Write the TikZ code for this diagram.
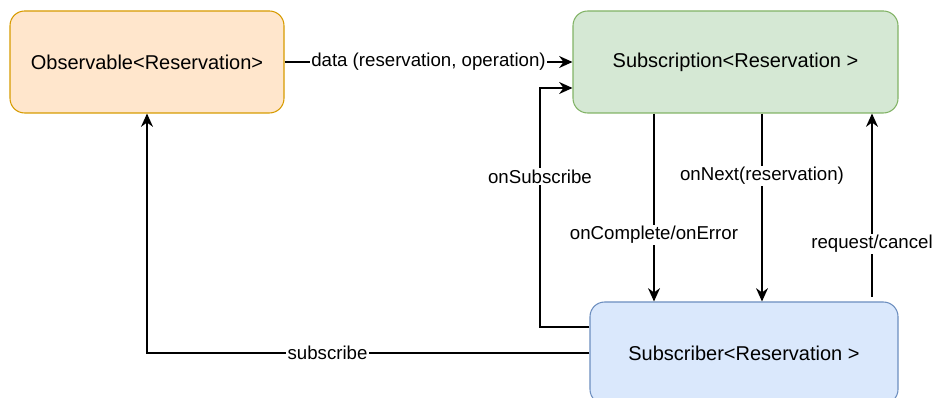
\documentclass[tikz,border=0pt]{standalone}
\usepackage{fontspec}
\setmainfont{Liberation Sans}
\usetikzlibrary{arrows.meta}

\definecolor{obsfill}{HTML}{FFE6CC}
\definecolor{obsline}{HTML}{D79B00}
\definecolor{snfill}{HTML}{D5E8D4}
\definecolor{snline}{HTML}{82B366}
\definecolor{srfill}{HTML}{DAE8FC}
\definecolor{srline}{HTML}{6C8EBF}

\tikzset{
    box/.style={rectangle, rounded corners=11pt, minimum height=76.5pt, inner sep=0pt,
        font=\fontsize{15}{18}\selectfont, line width=0.8pt},
    lbl/.style={fill=white, inner sep=1pt, font=\fontsize{14}{17}\selectfont},
    flow/.style={line width=1.1pt, -{Stealth[length=10pt, width=9pt]}}
}

\begin{document}
\begin{tikzpicture}[x=0.75pt, y=-0.75pt]
    \useasboundingbox (0,0) rectangle (935,398);

    % Boxes
    \node[box, fill=obsfill, draw=obsline, minimum width=205.5pt] (obs) at (147,62) {Observable<Reservation>};
    \node[box, fill=snfill, draw=snline, minimum width=243.75pt] (sn) at (735.5,62) {Subscription<Reservation >};
    \node[box, fill=srfill, draw=srline, minimum width=231pt] (sr) at (744,353) {Subscriber<Reservation >};

    % data flow
    \draw[flow] (obs.east) -- node[lbl] {data (reservation, operation)} (sn.west);

    % onSubscribe (Subscriber back to Subscription)
    \draw[flow] (sr.west |- 0,327) -- (540,327) -- node[lbl, pos=0.63] {onSubscribe} (540,88) -- (sn.west |- 0,88);

    % signals down to the Subscriber
    \draw[flow] (sn.south -| 654,0) -- node[lbl, pos=0.645] {onComplete/onError} (sr.north -| 654,0);
    \draw[flow] (sn.south -| 762,0) -- node[lbl, pos=0.33] {onNext(reservation)} (sr.north -| 762,0);

    % request/cancel up to the Subscription
    \draw[flow] (872,297) -- node[lbl, pos=0.29] {request/cancel} (sn.south -| 872,0);

    % subscribe
    \draw[flow] (sr.west) -| node[lbl, pos=0.296] {subscribe} (obs.south);
\end{tikzpicture}
\end{document}
